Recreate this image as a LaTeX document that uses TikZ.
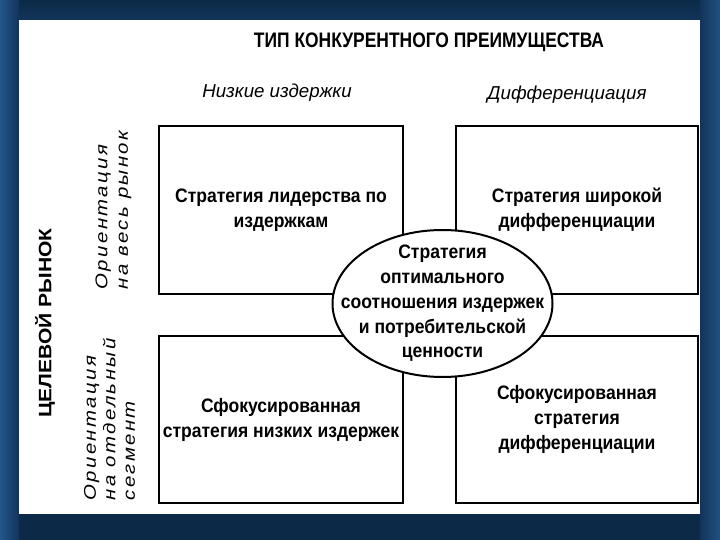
\documentclass[tikz,border=0pt]{standalone}
\usepackage{fontspec}
\setmainfont{Liberation Sans}[FakeStretch=0.9]
\newfontfamily\titlefont{Liberation Sans}[FakeStretch=0.83]
\newfontfamily\plainfont{Liberation Sans}
\newfontfamily\widefont{Liberation Sans}[FakeStretch=1.17]
\newfontfamily\spacedfont{Liberation Sans}[FakeStretch=1.2, LetterSpace=14]
\usetikzlibrary{shapes.geometric}
\definecolor{bgblue}{HTML}{12345A}
\definecolor{bgdark}{HTML}{0C2A47}
\definecolor{bglight}{HTML}{23568C}
\tikzset{
  quad/.style={draw, line width=2.5pt, minimum width=244pt, minimum height=168pt, inner sep=0pt, align=center, font=\fontsize{19.5}{25}\selectfont\bfseries},
  oval/.style={ellipse, draw, fill=white, line width=2pt, minimum width=220pt, minimum height=147pt, inner sep=0pt},
  ovaltext/.style={align=center, inner sep=0pt, font=\fontsize{19.5}{24.75}\selectfont\bfseries},
  head/.style={font=\plainfont\fontsize{18.7}{23}\selectfont\itshape},
  side/.style={rotate=90, align=left, font=\spacedfont\fontsize{17}{20.5}\selectfont\itshape}
}
\begin{document}
\begin{tikzpicture}[x=1pt,y=-1pt]
\fill[bgblue] (0,0) rectangle (720,540);
\useasboundingbox (0,0) rectangle (720,540);
\shade[top color=bgdark, bottom color=bgblue] (0,0) rectangle (720,20);
\shade[left color=bglight, right color=bgblue] (0,0) rectangle (19,540);
\shade[left color=bgblue, right color=bglight!85!bgblue] (700,0) rectangle (720,540);
\fill[bgdark] (19,514) rectangle (700,540);
\fill[white] (19,20) rectangle (700,514);
\node[font=\titlefont\fontsize{21}{24}\selectfont\bfseries] (title) at (429,42) {ТИП КОНКУРЕНТНОГО ПРЕИМУЩЕСТВА};
\node[head] (low) at (277,93) {Низкие издержки};
\node[head] (diff) at (567,95) {Дифференциация};
\node[quad] (tl) at (281,210) {Стратегия лидерства по\\издержкам};
\node[quad, minimum width=242pt] (tr) at (577,210) {Стратегия широкой\\дифференциации};
\node[quad, minimum height=167pt] (bl) at (281,419.5) {Сфокусированная\\стратегия низких издержек};
\node[quad, minimum width=242pt, minimum height=167pt] (br) at (577,419.5) {Сфокусированная\\стратегия\\дифференциации};
\node[oval] (mid) at (442.5,303.5) {};
\node[ovaltext] (midtext) at (mid.center) {Стратегия\\оптимального\\соотношения издержек\\и потребительской\\ценности};
\node[rotate=90, font=\widefont\fontsize{18}{23}\selectfont\bfseries] (market) at (45,323) {ЦЕЛЕВОЙ РЫНОК};
\node[side] (whole) at (113.5,210) {Ориентация\\на весь рынок};
\node[side, font=\spacedfont\fontsize{17}{19.5}\selectfont\itshape] (segment) at (109.5,419.5) {Ориентация\\на отдельный\\сегмент};
\end{tikzpicture}
\end{document}
